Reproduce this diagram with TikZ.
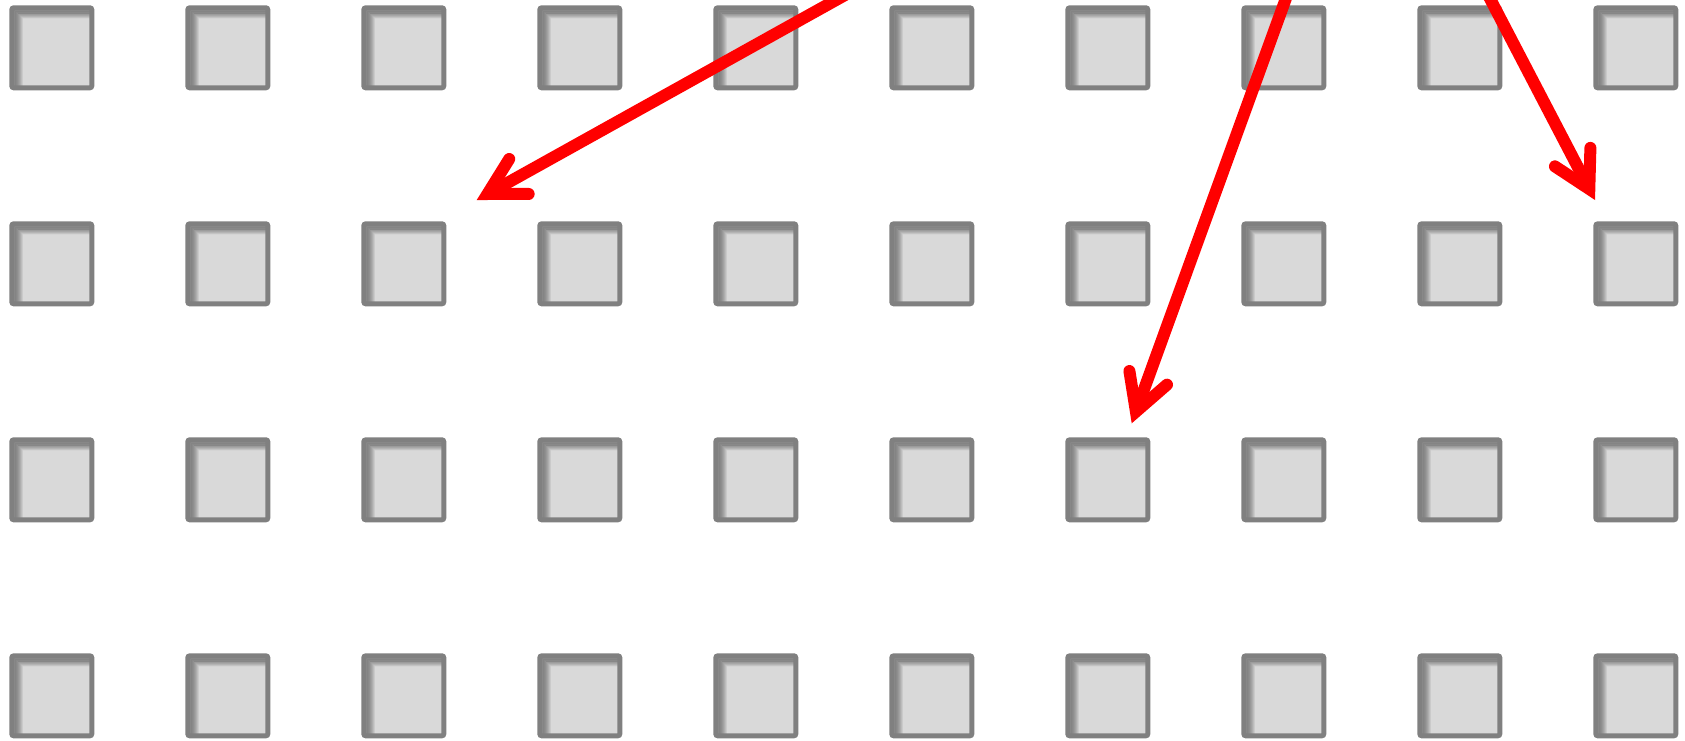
\documentclass[tikz,border=0pt]{standalone}
\usepackage{tikz}
\usetikzlibrary{arrows.meta}
\definecolor{tilegray}{HTML}{D9D9D9}
\definecolor{tileedge}{HTML}{808080}
\definecolor{jumpred}{HTML}{FF0000}
\tikzstyle{jump} = [
  -{Straight Barb[length=36pt, width=40pt, line cap=round, line join=miter]},
  line width=12pt, color=jumpred
]

\begin{document}
\begin{tikzpicture}[
  x=1pt, y=-1pt,
  tile/.style={rectangle, rounded corners=2pt, draw=tileedge, fill=tilegray,
               line width=5pt, minimum size=80pt, inner sep=0pt,
               path picture={
                 \foreach \k [evaluate=\k as \op using 0.85-\k/20] in {0,...,16}
                   \draw[tileedge, line width=0.6pt, opacity=\op, sharp corners]
                     ([xshift={(2.8+\k/2)*1pt}, yshift=-90pt]path picture bounding box.north west)
                     -- ([xshift={(2.8+\k/2)*1pt}, yshift={-(2.8+\k*0.45)*1pt}]path picture bounding box.north west)
                     -- ([xshift=90pt, yshift={-(2.8+\k*0.45)*1pt}]path picture bounding box.north west);
               }},
]
  \useasboundingbox (0,0) rectangle (1685,740);
  \clip (0,0) rectangle (1685,740);

  % grid of tiles
  \foreach \r in {0,...,3}
    \foreach \c in {0,...,9}
      \node[tile] (t-\r-\c) at ({51.8+176*\c}, {47.8+216*\r}) {};

  % jumps (their tails start above the visible area)
  \coordinate (tailA) at (872,-20);
  \coordinate (tipA)  at (476.7,200);
  \coordinate (tailB) at (1292.6,-20);
  \coordinate (tipB)  at (1131.7,423.3);
  \coordinate (tailC) at (1480.3,-20);
  \coordinate (tipC)  at (1595,200);

  \draw[jump] (tailA) -- (tipA);
  \draw[jump] (tailB) -- (tipB);
  \draw[jump] (tailC) -- (tipC);
\end{tikzpicture}
\end{document}
